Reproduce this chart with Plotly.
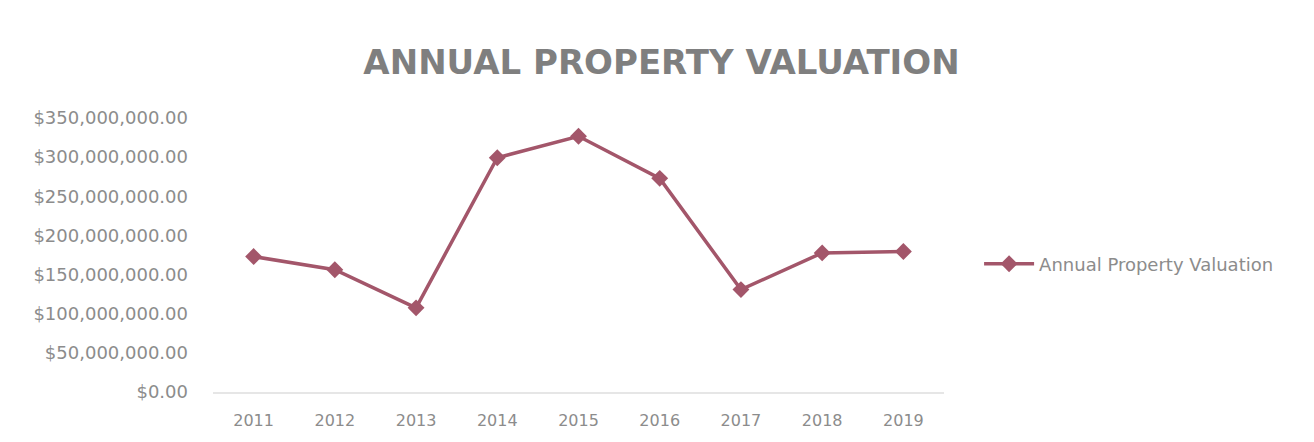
import plotly.graph_objects as go

years = ["2011", "2012", "2013", "2014", "2015", "2016", "2017", "2018", "2019"]
valuation = [173.0e6, 156.2e6, 107.5e6, 299.2e6, 326.7e6, 272.9e6, 130.8e6, 177.7e6, 179.4e6]
y_ticks = [0, 50e6, 100e6, 150e6, 200e6, 250e6, 300e6, 350e6]

color = "#A3566A"
font = "DejaVu Sans"

fig = go.Figure()
fig.add_trace(go.Scatter(
    x=years, y=valuation, mode="lines+markers", name="Annual Property Valuation",
    line=dict(color=color, width=3.5),
    marker=dict(symbol="diamond", size=13, color=color),
))

fig.update_layout(
    width=1306, height=434,
    margin=dict(l=205, r=370, t=110, b=48),
    paper_bgcolor="white", plot_bgcolor="white",
    title=dict(text="<b>ANNUAL PROPERTY VALUATION</b>", x=(661.5 - 8) / 1306, xanchor="center",
               y=1 - (62.5 - 8) / 434, yanchor="middle",
               font=dict(family=font, size=34, color="#7f7f7f")),
    showlegend=True,
    legend=dict(x=1.048, y=0.467, xanchor="left", yanchor="middle",
                font=dict(family=font, size=18, color="#8c8c8c"), itemwidth=50,
                bgcolor="rgba(0,0,0,0)"),
    font=dict(family=font, color="#8c8c8c"),
)
fig.update_xaxes(type="category", range=[-0.5, 8.5], showgrid=False, showline=True,
                 linecolor="#e6e6e6", linewidth=1.5, ticks="", ticklabelstandoff=13,
                 tickfont=dict(family=font, size=16, color="#8c8c8c"))
fig.update_yaxes(range=[0, 350e6], tickvals=y_ticks, tickformat="$,.2f", showgrid=False,
                 zeroline=False, showline=False, ticks="", ticklabelstandoff=24,
                 tickfont=dict(family=font, size=18, color="#8c8c8c"))

fig.write_html("out.html")
